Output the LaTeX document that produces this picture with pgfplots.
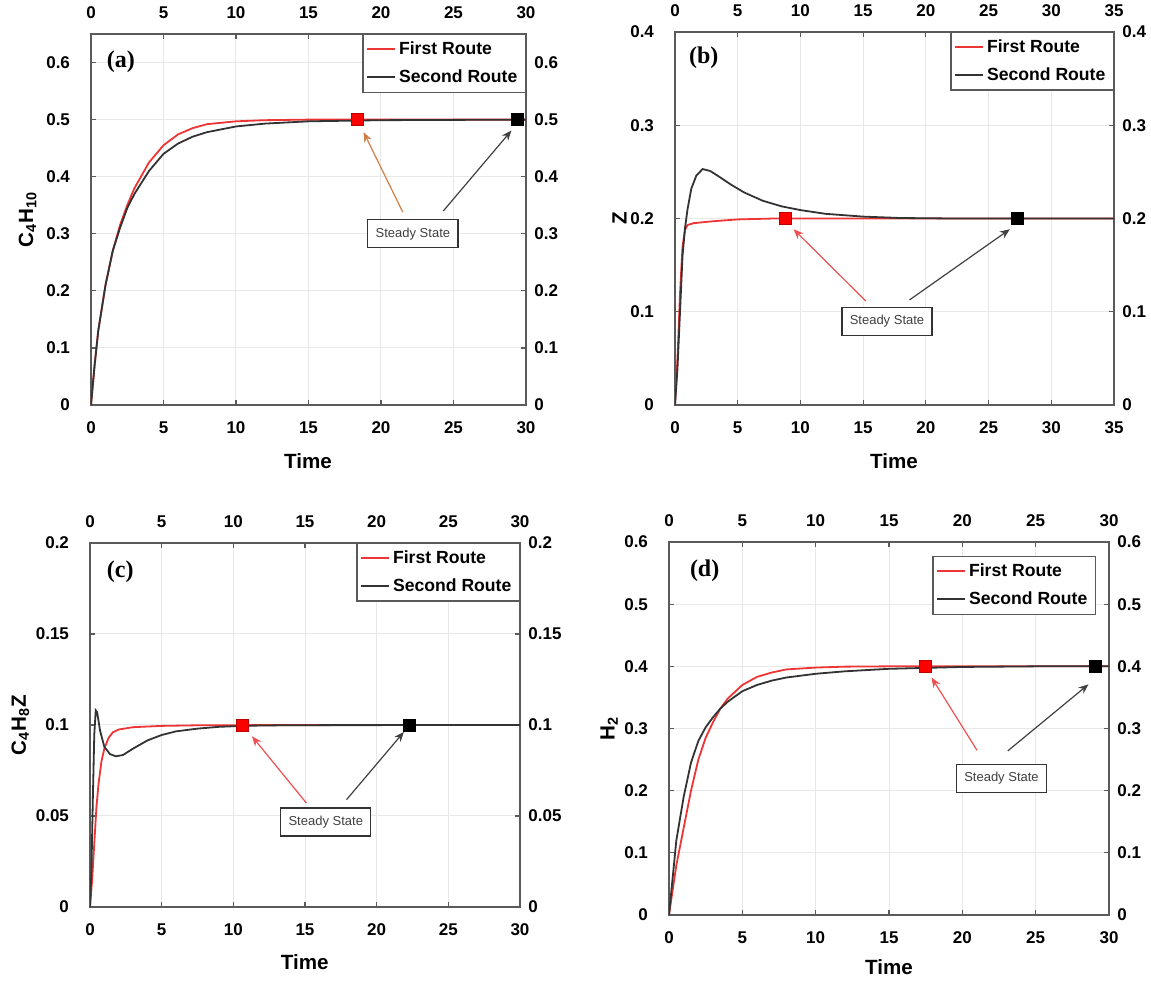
\documentclass[border=0pt]{standalone}
\usepackage{pgfplots}
\pgfplotsset{compat=1.18}
\usepackage{fontspec}
\setmainfont{Liberation Sans}
\newfontfamily\tnr{Liberation Serif}
\usetikzlibrary{arrows.meta}
\definecolor{rline}{HTML}{EE3535}
\definecolor{kline}{HTML}{333333}
\definecolor{frame}{HTML}{5A5A5A}
\definecolor{rarrow}{HTML}{EE5050}
\definecolor{oarrow}{HTML}{CF7F45}
\definecolor{karrow}{HTML}{404040}

\pgfplotsset{legend image code/.code={\fill[#1] (0pt,-0.4pt) rectangle (14pt,0.7pt);}}
\pgfplotsset{
  tlfont/.style={font=\fontsize{8.5}{10}\selectfont\bfseries},
  panel/.style={scale only axis, anchor=south west, xmin=0, ymin=0,
    grid=major, grid style={gray!18, line width=0.5pt},
    axis line style={frame, line width=0.9pt},
    tick style={frame, line width=0.6pt}, major tick length=2.5pt,
    tick align=inside, tick pos=both, xtick distance=5,
    scaled ticks=false,
    /pgf/number format/assume math mode=true,
    /pgf/number format/fixed, /pgf/number format/precision=2,
    ticklabel style={tlfont},
    xticklabel style={yshift=-5pt}, yticklabel style={xshift=-7pt},
    legend style={at={(1,1)}, anchor=north east, draw=frame, line width=0.6pt,
      font=\fontsize{8.8}{10.5}\selectfont\bfseries, inner xsep=2pt, inner ysep=1.5pt,
      row sep=2pt},
    legend cell align=left},
  twin/.style={scale only axis, anchor=south west, xmin=0, ymin=0,
    axis line style={draw=none}, tick style={draw=none},
    xticklabel pos=upper, yticklabel pos=right, xtick distance=5,
    scaled ticks=false,
    /pgf/number format/assume math mode=true,
    /pgf/number format/fixed, /pgf/number format/precision=2,
    ticklabel style={tlfont},
    xticklabel style={yshift=4.2pt}, yticklabel style={xshift=0.7pt}},
  redroute/.style={color=rline, line width=0.9pt, forget plot},
  blkroute/.style={color=kline, line width=0.9pt, forget plot},
  rm/.style={only marks, mark=square*, mark size=3pt, mark options={fill=red, draw=red!75!black}, forget plot},
  km/.style={only marks, mark=square*, mark size=3pt, mark options={fill=black, draw=black}, forget plot},
}
\tikzset{
  ss/.style={draw=black!80, line width=0.6pt, fill=white, minimum width=45pt,
    minimum height=14pt, inner sep=0pt, font=\fontsize{6.5}{7}\selectfont, text=black!75},
  arr/.style={line width=0.6pt, -{Stealth[length=5pt, width=4pt]}},
  plab/.style={font=\tnr\fontsize{12}{12}\selectfont\bfseries, anchor=west},
  albl/.style={font=\fontsize{10.3}{12}\selectfont\bfseries},
}
\newcommand{\routelegend}{%
  \addlegendimage{fill=rline, draw=none}\addlegendentry{First Route}
  \addlegendimage{fill=kline, draw=none}\addlegendentry{Second Route}}

\begin{document}
\begin{tikzpicture}

% ---------- (a) C4H10 ----------
\begin{axis}[panel, at={(45.5pt,289pt)}, width=217.5pt, height=185.5pt,
  xmax=30, ymax=0.65, ytick={0,0.1,...,0.6}]
  \routelegend
  \addplot[redroute] coordinates {(0,0) (0.25,0.07) (0.5,0.13) (1,0.21) (1.5,0.27) (2,0.315)
    (2.5,0.35) (3,0.38) (4,0.425) (5,0.455) (6,0.474) (7,0.485) (8,0.492) (10,0.497)
    (12,0.499) (15,0.5) (30,0.5)};
  \addplot[blkroute] coordinates {(0,0) (0.25,0.07) (0.5,0.13) (1,0.21) (1.5,0.27) (2,0.31)
    (2.5,0.345) (3,0.37) (4,0.41) (5,0.44) (6,0.458) (7,0.47) (8,0.478) (10,0.488)
    (12,0.493) (15,0.497) (20,0.499) (30,0.5)};
  \addplot[rm] coordinates {(18.4,0.5)};
  \addplot[km] coordinates {(29.4,0.5)};
  \draw[arr, oarrow] (axis cs:21.5,0.338) -- (axis cs:18.8,0.478);
  \draw[arr, karrow] (axis cs:24.3,0.340) -- (axis cs:29.0,0.481);
  \node[ss] at (axis cs:22.2,0.30) {Steady State};
  \node[plab] at (axis cs:0.6,0.602) {(a)};
\end{axis}
\begin{axis}[twin, at={(45.5pt,289pt)}, width=217.5pt, height=185.5pt,
  xmax=30, ymax=0.65, ytick={0,0.1,...,0.6}]
  \addplot[draw=none] coordinates {(0,0)};
\end{axis}

% ---------- (b) Z ----------
\begin{axis}[panel, at={(337.5pt,289pt)}, width=219.5pt, height=186.5pt,
  xmax=35, ymax=0.4, ytick={0,0.1,...,0.4}]
  \routelegend
  \addplot[redroute] coordinates {(0,0) (0.2,0.05) (0.4,0.12) (0.6,0.17) (0.8,0.188) (1,0.193)
    (1.5,0.195) (3,0.197) (5,0.199) (8,0.2) (35,0.2)};
  \addplot[blkroute] coordinates {(0,0) (0.2,0.04) (0.4,0.1) (0.6,0.16) (0.8,0.19) (1,0.21)
    (1.3,0.232) (1.7,0.246) (2.2,0.253) (2.8,0.251) (3.5,0.245) (4.5,0.236) (5.5,0.228)
    (7,0.219) (8.5,0.213) (10,0.209) (12,0.205) (15,0.202) (18,0.2005) (22,0.2) (35,0.2)};
  \addplot[rm] coordinates {(8.8,0.2)};
  \addplot[km] coordinates {(27.3,0.2)};
  \draw[arr, rarrow] (axis cs:15.2,0.1116) -- (axis cs:9.45,0.1885);
  \draw[arr, karrow] (axis cs:18.7,0.1127) -- (axis cs:26.7,0.1885);
  \node[ss] at (axis cs:16.9,0.0894) {Steady State};
  \node[plab] at (axis cs:0.56,0.372) {(b)};
\end{axis}
\begin{axis}[twin, at={(337.5pt,289pt)}, width=219.5pt, height=186.5pt,
  xmax=35, ymax=0.4, ytick={0,0.1,...,0.4}]
  \addplot[draw=none] coordinates {(0,0)};
\end{axis}

% ---------- (c) C4H8Z ----------
\begin{axis}[panel, at={(45pt,38pt)}, width=215pt, height=182pt,
  xmax=30, ymax=0.2, ytick={0,0.05,0.1,0.15,0.2}]
  \routelegend
  \addplot[redroute] coordinates {(0,0) (0.15,0.015) (0.3,0.035) (0.45,0.055) (0.6,0.068)
    (0.8,0.08) (1,0.087) (1.3,0.093) (1.6,0.096) (2,0.0975) (3,0.0988) (5,0.0995)
    (8,0.0999) (30,0.1)};
  \addplot[blkroute] coordinates {(0,0) (0.1,0.02) (0.2,0.06) (0.3,0.095) (0.4,0.108)
    (0.5,0.107) (0.7,0.097) (1,0.088) (1.4,0.084) (1.8,0.0828) (2.3,0.0835) (3,0.087)
    (4,0.0915) (5,0.0945) (6,0.0965) (7.5,0.098) (9,0.099) (11,0.0996) (14,0.0999) (30,0.1)};
  \addplot[rm] coordinates {(10.6,0.1)};
  \addplot[km] coordinates {(22.3,0.1)};
  \draw[arr, rarrow] (axis cs:15.1,0.0571) -- (axis cs:11.3,0.0938);
  \draw[arr, karrow] (axis cs:17.9,0.059) -- (axis cs:21.9,0.0962);
  \node[ss] at (axis cs:16.45,0.0467) {Steady State};
  \node[plab] at (axis cs:0.69,0.184) {(c)};
\end{axis}
\begin{axis}[twin, at={(45pt,38pt)}, width=215pt, height=182pt,
  xmax=30, ymax=0.2, ytick={0,0.05,0.1,0.15,0.2}]
  \addplot[draw=none] coordinates {(0,0)};
\end{axis}

% ---------- (d) H2 ----------
\begin{axis}[panel, at={(334.5pt,34pt)}, width=220pt, height=186.5pt,
  xmax=30, ymax=0.6, ytick={0,0.1,...,0.6},
  legend style={at={(1,1)}, anchor=north east, xshift=-6.5pt, yshift=-7pt}]
  \routelegend
  \addplot[redroute] coordinates {(0,0) (0.25,0.04) (0.5,0.08) (1,0.14) (1.5,0.2) (2,0.25)
    (2.5,0.285) (3,0.31) (3.5,0.332) (4,0.348) (5,0.37) (6,0.383) (7,0.39) (8,0.395)
    (10,0.398) (12,0.3995) (15,0.4) (30,0.4)};
  \addplot[blkroute] coordinates {(0,0) (0.25,0.06) (0.5,0.12) (1,0.19) (1.5,0.245) (2,0.28)
    (2.5,0.302) (3,0.318) (3.5,0.332) (4,0.343) (5,0.36) (6,0.37) (7,0.377) (8,0.382)
    (10,0.388) (12,0.392) (15,0.396) (20,0.399) (25,0.4) (30,0.4)};
  \addplot[rm] coordinates {(17.45,0.4)};
  \addplot[km] coordinates {(29.07,0.4)};
  \draw[arr, rarrow] (axis cs:21.0,0.265) -- (axis cs:17.9,0.382);
  \draw[arr, karrow] (axis cs:23.1,0.264) -- (axis cs:28.6,0.371);
  \node[ss] at (axis cs:22.67,0.22) {Steady State};
  \node[plab] at (axis cs:0.95,0.553) {(d)};
\end{axis}
\begin{axis}[twin, at={(334.5pt,34pt)}, width=220pt, height=186.5pt,
  xmax=30, ymax=0.6, ytick={0,0.1,...,0.6}]
  \addplot[draw=none] coordinates {(0,0)};
\end{axis}

% axis labels
\node[albl] at (154pt,260.7pt) {Time};
\node[albl] at (447pt,260.7pt) {Time};
\node[albl] at (152.4pt,10.2pt) {Time};
\node[albl] at (444.5pt,7.7pt) {Time};
\node[albl, rotate=90] at (13.8pt,381.75pt) {C\textsubscript{4}H\textsubscript{10}};
\node[albl, rotate=90] at (309.8pt,382.25pt) {Z};
\node[albl, rotate=90] at (10.2pt,129pt) {C\textsubscript{4}H\textsubscript{8}Z};
\node[albl, rotate=90] at (304.6pt,127.25pt) {H\textsubscript{2}};

\pgfresetboundingbox
\path[use as bounding box] (0,0) rectangle (575.5pt,491.5pt);
\end{tikzpicture}
\end{document}
